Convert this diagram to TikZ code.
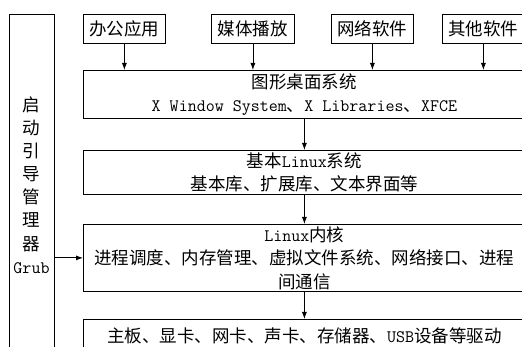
\documentclass[tikz,border=0pt]{standalone}
\usepackage{fontspec}
\setmainfont{Noto Sans CJK SC}
\newcommand\lt[1]{{\ttfamily #1}}
\usetikzlibrary{arrows.meta}
\tikzset{
  box/.style={draw, line width=0.8pt, rectangle, anchor=north west, inner sep=0pt, align=center,
    font=\fontsize{17.5}{23.5}\selectfont},
  topbox/.style={box, minimum height=29pt},
  arr/.style={line width=0.8pt, -{Latex[length=7pt,width=5pt]}}
}
\begin{document}
\begin{tikzpicture}[x=1pt,y=-1pt]
\useasboundingbox (0,0) rectangle (522,347);
\clip (0,0) rectangle (522,347);
\fill[white] (0,0) rectangle (522,347);
% left boot box
\node[box, minimum width=45pt, minimum height=345pt] (boot) at (9,14) {};
\node[align=center, inner sep=0pt, font=\fontsize{17.5}{23.1}\selectfont] (boottxt) at (31.5,185) {启\\动\\引\\导\\管\\理\\器\\\lt{Grub}};
% top boxes
\node[topbox, minimum width=82pt] (a1) at (83,14) {办公应用};
\node[topbox, minimum width=83pt] (a2) at (211,14) {媒体播放};
\node[topbox, minimum width=82pt] (a3) at (331,14) {网络软件};
\node[topbox, minimum width=82pt] (a4) at (442,14) {其他软件};
% layer boxes
\node[box, minimum width=442pt, minimum height=48pt] (b1) at (83,70) {图形桌面系统\\\lt{X Window System}、\lt{X Libraries}、\lt{XFCE}};
\node[box, minimum width=442pt, minimum height=44pt] (b2) at (83,150) {基本\lt{Linux}系统\\基本库、扩展库、文本界面等};
\node[box, minimum width=442pt, minimum height=67pt] (b3) at (83,224) {\lt{Linux}内核\\进程调度、内存管理、虚拟文件系统、网络接口、进程\\间通信};
\node[box, minimum width=442pt, minimum height=33pt] (b4) at (83,319) {主板、显卡、网卡、声卡、存储器、\lt{USB}设备等驱动};
\draw (b4.north west) -- ++(0,40);
% arrows
\foreach \n in {a1,a2,a3,a4} \draw[arr] (\n.south) -- (\n.south |- b1.north);
\draw[arr] (b1.south) -- (b2.north);
\draw[arr] (b2.south) -- (b3.north);
\draw[arr] (b3.south) -- (b4.north);
\draw[arr] (boot.east |- b3.west) -- (b3.west);
\end{tikzpicture}
\end{document}
